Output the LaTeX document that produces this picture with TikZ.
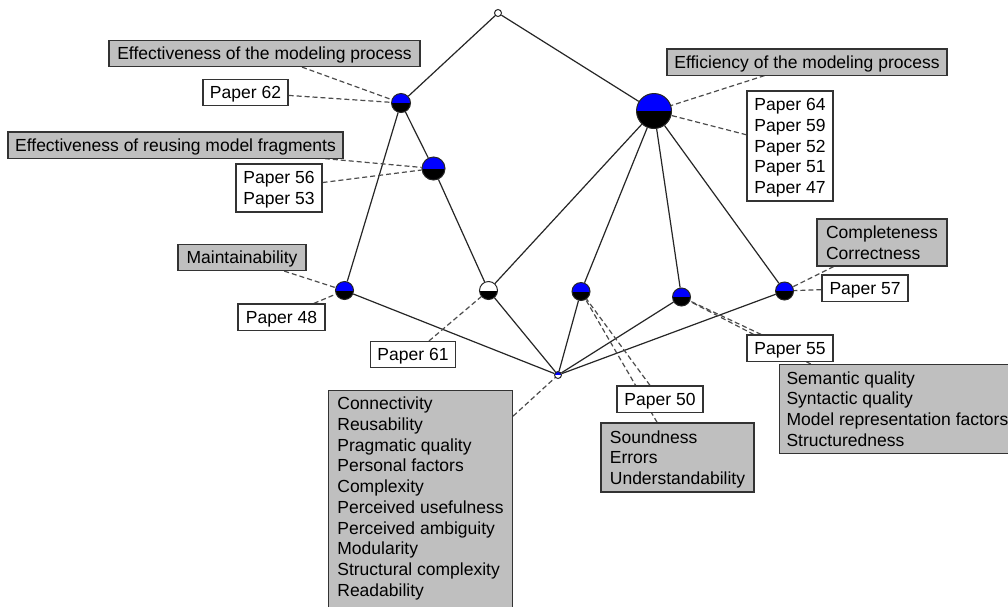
\documentclass[tikz,border=0pt]{standalone}
\usepackage{fontspec}
\setmainfont{Liberation Sans}
\pgfdeclarelayer{bg}
\pgfsetlayers{bg,main}
% line strut: height 16.6pt, depth 4.1pt (one baselineskip)
\newcommand{\ls}{\rule[-4.1pt]{0pt}{20.7pt}}
\begin{document}
\begin{tikzpicture}[x=1pt,y=-1pt,
  every node/.style={font=\fontsize{17.5}{20.7}\selectfont},
  lbl/.style={draw=black!80, line width=1.1pt, inner xsep=7pt, inner ysep=2.7pt, align=left},
  attrbox/.style={lbl, fill=black!25},
  papbox/.style={lbl, fill=white},
  edge/.style={draw=black!85, line width=1.2pt},
  hint/.style={draw=black!70, line width=1.2pt, dash pattern=on 5pt off 3pt},
  halfnode/.style n args={3}{circle, inner sep=0pt, minimum size=#3, draw=black!85, line width=1pt,
    path picture={
      \fill[#1] (path picture bounding box.north west) rectangle (path picture bounding box.east);
      \fill[#2] (path picture bounding box.west) rectangle (path picture bounding box.south east);}},
]
\useasboundingbox (0,0) rectangle (1008,606);
\clip (0,0) rectangle (1008,606);

% lattice concepts
\node[halfnode={white}{white}{7pt}] (top) at (498,13) {};
\node[halfnode={blue}{black}{19pt}] (A) at (401,103) {};
\node[halfnode={blue}{black}{23pt}] (B) at (433.5,168.5) {};
\node[halfnode={blue}{black}{35pt}] (C) at (654,111) {};
\node[halfnode={blue}{black}{18pt}] (D) at (344.5,290.5) {};
\node[halfnode={white}{black}{18pt}] (E) at (488.5,290.5) {};
\node[halfnode={blue}{black}{18pt}] (F) at (581,291.5) {};
\node[halfnode={blue}{black}{18pt}] (G) at (681.5,297) {};
\node[halfnode={blue}{black}{18pt}] (H) at (784.5,291) {};
\node[halfnode={blue}{white}{7pt}] (bot) at (558,375) {};

% attribute and object labels
\node[attrbox, minimum width=311pt, minimum height=25pt] (lEffMod) at (264.5,53.5) {\ls Effectiveness of the modeling process};
\node[papbox, minimum width=85pt, minimum height=25pt] (p62) at (245.5,92.5) {\ls Paper 62};
\node[attrbox, minimum width=335pt, minimum height=25pt] (lReuse) at (175.5,145) {\ls Effectiveness of reusing model fragments};
\node[papbox, minimum width=86pt, minimum height=48pt] (p56) at (279,188) {\ls Paper 56\\\ls Paper 53};
\node[attrbox, minimum width=280pt, minimum height=26pt] (lEffic) at (807,62) {\ls Efficiency of the modeling process};
\node[papbox, minimum width=86pt, minimum height=110pt] (p64) at (790,146) {\ls Paper 64\\\ls Paper 59\\\ls Paper 52\\\ls Paper 51\\\ls Paper 47};
\node[attrbox, minimum width=128pt, minimum height=26pt] (lMaint) at (242,257.5) {\ls Maintainability};
\node[papbox, minimum width=87pt, minimum height=26pt] (p48) at (281.5,317) {\ls Paper 48};
\node[papbox, minimum width=84pt, minimum height=25pt] (p61) at (413,354.5) {\ls Paper 61};
\node[attrbox, minimum width=130pt, minimum height=47pt] (lComp) at (882,242.5) {\ls Completeness\\\ls Correctness};
\node[papbox, minimum width=86pt, minimum height=26pt] (p57) at (865,288) {\ls Paper 57};
\node[papbox, minimum width=86pt, minimum height=26pt] (p55) at (790,348) {\ls Paper 55};
\node[attrbox, anchor=north west, minimum height=89pt] (lSem) at (779,364) {\ls Semantic quality\\\ls Syntactic quality\\\ls Model representation factors\\\ls Structuredness};
\node[papbox, minimum width=86pt, minimum height=26pt] (p50) at (660,399) {\ls Paper 50};
\node[attrbox, minimum width=153pt, minimum height=69pt] (lSound) at (677.5,457.5) {\ls Soundness\\\ls Errors\\\ls Understandability};
\node[attrbox, anchor=north west, minimum width=184pt] (lBig) at (328,390) {\ls Connectivity\\\ls Reusability\\\ls Pragmatic quality\\\ls Personal factors\\\ls Complexity\\\ls Perceived usefulness\\\ls Perceived ambiguity\\\ls Modularity\\\ls Structural complexity\\\ls Readability\rule[-12pt]{0pt}{0pt}};

\begin{pgfonlayer}{bg}
  \fill[white] (0,0) rectangle (1008,606);
  % order relation of the lattice
  \foreach \a/\b in {top/A, top/C, A/B, A/D, B/E, C/E, C/F, C/G, C/H, D/bot, E/bot, F/bot, G/bot, H/bot}
    \draw[edge] (\a) -- (\b);
  % label leaders
  \foreach \l/\n in {lEffMod/A, p62/A, lReuse/B, p56/B, lEffic/C, p64/C, lMaint/D, p48/D, p61/E,
                     lComp/H, p57/H, p55/G, lSem/G, p50/F, lSound/F, lBig/bot}
    \draw[hint] (\l) -- (\n);
\end{pgfonlayer}
\end{tikzpicture}
\end{document}
